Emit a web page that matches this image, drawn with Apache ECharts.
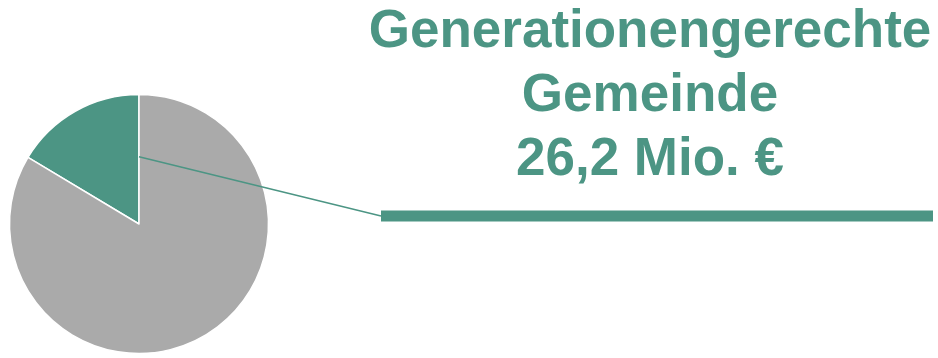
<!DOCTYPE html>
<html>
<head>
<meta charset="utf-8">
<script src="https://cdn.jsdelivr.net/npm/echarts@6/dist/echarts.min.js"></script>
<style>
  html, body { margin: 0; padding: 0; background: #ffffff; }
  #chart { width: 938px; height: 358px; }
</style>
</head>
<body>
<div id="chart"></div>
<script>
// Budget share in Mio. €
const categories = ['Generationengerechte Gemeinde', 'Übrige'];
const values = [26.2, 133.6];
const colors = ['#4c9584', '#aaaaaa'];
const unit = 'Mio. €';

const teal = colors[0];
const pieCenter = [139, 224];
const pieRadius = 129.5;

const fmt = v => v.toLocaleString('de-DE', { minimumFractionDigits: 1, maximumFractionDigits: 1 });
const headline = 'Generationengerechte\nGemeinde\n' + fmt(values[0]) + ' ' + unit;

const chart = echarts.init(document.getElementById('chart'), null, { renderer: 'canvas' });

// Callout: thin leader from the highlighted slice to a thick underline bar
const leaderStart = [pieCenter[0], pieCenter[1] - pieRadius * 0.52];
const barLeft = 381, barRight = 933, barY = 210.5, barH = 11;

chart.setOption({
  animation: false,
  title: {
    text: headline,
    left: 650,
    top: 0,
    padding: 0,
    textAlign: 'center',
    textStyle: {
      color: teal,
      fontFamily: '"Liberation Sans", Arial, sans-serif',
      fontWeight: 'bold',
      fontSize: 53,
      lineHeight: 64
    }
  },
  series: [{
    type: 'pie',
    center: pieCenter,
    radius: pieRadius,
    startAngle: 90,
    clockwise: false,
    label: { show: false },
    labelLine: { show: false },
    emphasis: { disabled: true },
    itemStyle: { borderColor: '#ffffff', borderWidth: 1.5 },
    data: categories.map((name, i) => ({
      name,
      value: values[i],
      itemStyle: { color: colors[i] }
    }))
  }],
  graphic: [
    {
      type: 'line',
      z: 10,
      shape: { x1: leaderStart[0], y1: leaderStart[1], x2: barLeft, y2: barY + barH / 2 },
      style: { stroke: teal, lineWidth: 1.5 }
    },
    {
      type: 'rect',
      z: 10,
      shape: { x: barLeft, y: barY, width: barRight - barLeft, height: barH },
      style: { fill: teal }
    }
  ]
});
</script>
</body>
</html>
